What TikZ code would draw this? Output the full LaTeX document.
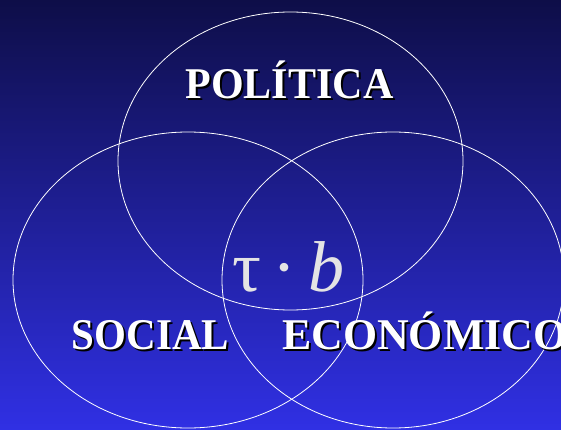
\documentclass[tikz,border=0pt]{standalone}
\usepackage{fontspec}
\setmainfont{Liberation Serif}
\definecolor{bgtop}{RGB}{14,14,72}
\definecolor{bgbot}{RGB}{48,48,228}
\definecolor{formula}{RGB}{228,228,228}
\newcommand{\bigword}[2][1]{\scalebox{#1}[1.07]{\fontsize{41}{41}\selectfont\bfseries #2}}
\begin{document}
\begin{tikzpicture}[x=1pt,y=-1pt,
  ring/.style={draw=white,line width=0.8pt},
  label/.style={anchor=base,inner sep=0pt,text=white},
  shadow/.style={anchor=base,inner sep=0pt,text=black}]
\useasboundingbox (0,0) rectangle (561,430);
\shade[top color=bgtop,bottom color=bgbot] (0,0) rectangle (561,430);
\draw[ring] (290.5,161) ellipse [x radius=172.5pt, y radius=149pt];
\draw[ring] (188,280) ellipse [x radius=175pt, y radius=148pt];
\draw[ring] (393,280) ellipse [x radius=171pt, y radius=148pt];
% shadows
\node[shadow] (polS) at (291.5,101) {\bigword[1.025]{POLÍTICA}};
\node[shadow] (socS) at (152.5,351) {\bigword{SOCIAL}};
\node[shadow,anchor=base west] (ecoS) at (284,351) {\bigword[1.07]{ECONÓMICO}};
% labels
\node[label] (pol) at (289.5,99) {\bigword[1.025]{POLÍTICA}};
\node[label] (soc) at (150.5,349) {\bigword{SOCIAL}};
\node[label,anchor=base west] (eco) at (282,349) {\bigword[1.07]{ECONÓMICO}};
\node[anchor=base,inner sep=0pt,text=formula] (tb) at (288.5,291)
  {\fontsize{72}{72}\selectfont τ\hspace{12pt}·\hspace{12pt}\textit{b}};
\end{tikzpicture}
\end{document}
